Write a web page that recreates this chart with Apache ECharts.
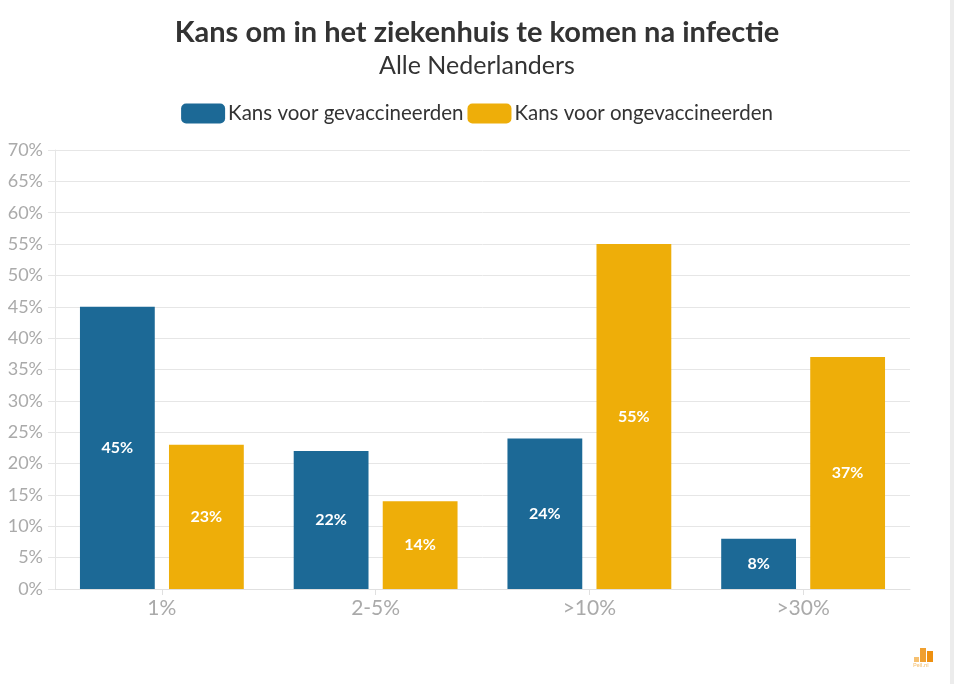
<!DOCTYPE html>
<html><head><meta charset="utf-8">
<script src="https://cdn.jsdelivr.net/npm/echarts@6/dist/echarts.min.js"></script>
<style>html,body{margin:0;padding:0;background:#fff}#c{width:954px;height:684px}</style>
</head><body><div id="c"></div>
<script>
const categories = ['1%', '2-5%', '>10%', '>30%'];
const vaccinated = [45, 22, 24, 8];
const unvaccinated = [23, 14, 55, 37];
const yTicks = [0, 70, 5];
const seriesNames = ['Kans voor gevaccineerden', 'Kans voor ongevaccineerden'];

const FONT = 'Lato, "Open Sans", sans-serif';
const chart = echarts.init(document.getElementById('c'));
const labelCfg = {show: true, position: 'inside', color: '#fff', fontWeight: 'bold', fontSize: 16, fontFamily: FONT, formatter: p => p.value + '%'};
chart.setOption({
  animation: false,
  title: {
    text: 'Kans om in het ziekenhuis te komen na infectie',
    subtext: 'Alle Nederlanders',
    left: 'center', top: 13, itemGap: 6,
    textStyle: {fontFamily: FONT, fontSize: 29, fontWeight: 'bold', color: '#333'},
    subtextStyle: {fontFamily: FONT, fontSize: 25, color: '#333'}
  },
  legend: {
    top: 98, left: 'center', itemWidth: 44, itemHeight: 20, itemGap: 4,
    textStyle: {fontFamily: FONT, fontSize: 20.5, color: '#333', padding: [0, 0, 0, -2]},
    data: seriesNames.map(n => ({name: n, icon: 'roundRect'}))
  },
  grid: {left: 55, right: 44, top: 150, bottom: 95, containLabel: false},
  xAxis: {
    type: 'category', data: categories,
    axisLine: {lineStyle: {color: '#e0e0e0'}},
    axisTick: {show: true, alignWithLabel: true, length: 6, lineStyle: {color: '#e0e0e0'}},
    axisLabel: {fontFamily: FONT, fontSize: 21, color: '#aaa', margin: 9}
  },
  yAxis: {
    type: 'value', min: yTicks[0], max: yTicks[1], interval: yTicks[2],
    axisLine: {show: true, lineStyle: {color: '#e6e6e6'}},
    axisTick: {show: true, length: 7, lineStyle: {color: '#e6e6e6'}},
    splitLine: {lineStyle: {color: '#e6e6e6'}},
    axisLabel: {fontFamily: FONT, fontSize: 18, color: '#aaa', formatter: v => v + '%', margin: 12}
  },
  series: [
    {name: seriesNames[0], type: 'bar', data: vaccinated, barWidth: '35%', barGap: '19%', itemStyle: {color: '#1c6996'}, label: labelCfg},
    {name: seriesNames[1], type: 'bar', data: unvaccinated, barWidth: '35%', barGap: '19%', itemStyle: {color: '#eeae09'}, label: labelCfg}
  ],
  graphic: [
    {type: 'rect', right: 0, top: 0, shape: {width: 4, height: 684}, style: {fill: '#ececec'}},
    {type: 'rect', left: 914, top: 657, shape: {width: 5, height: 5}, style: {fill: '#f6c070'}},
    {type: 'rect', left: 920, top: 648, shape: {width: 6, height: 14}, style: {fill: '#f0a030'}},
    {type: 'rect', left: 927, top: 651, shape: {width: 6, height: 11}, style: {fill: '#ee9010'}},
    {type: 'text', left: 913, top: 662, style: {text: 'Peil.nl', fontSize: 6, fill: '#f5c070', fontFamily: FONT}}
  ]
});
</script></body></html>
